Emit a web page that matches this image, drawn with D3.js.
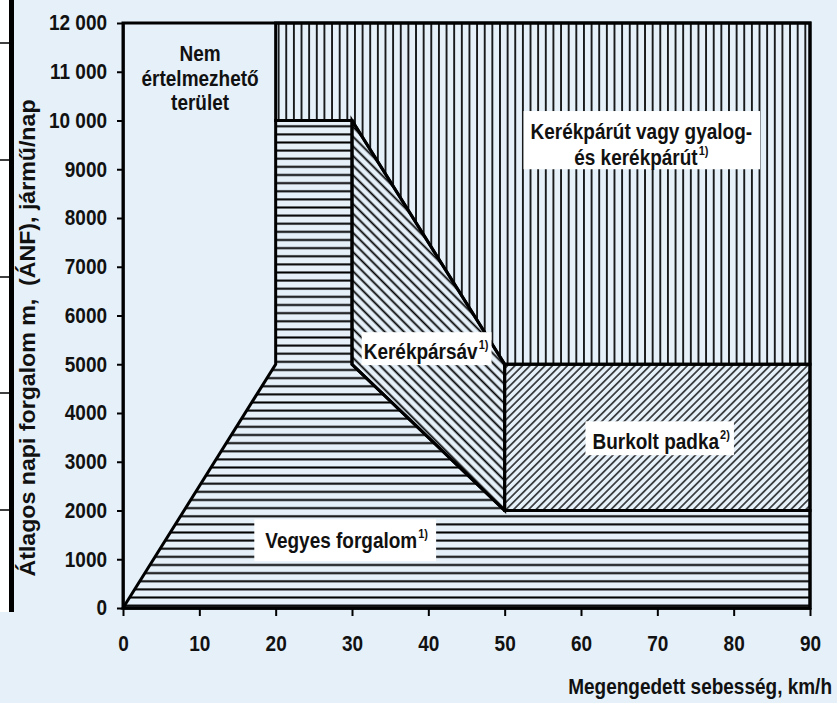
<!DOCTYPE html>
<html>
<head>
<meta charset="utf-8">
<script src="https://cdn.jsdelivr.net/npm/d3@7"></script>
<style>
  body { margin: 0; background: #e5f0f9; }
  svg { display: block; }
  text { font-family: "Liberation Sans", Arial, sans-serif; font-weight: bold; fill: #111; }
</style>
</head>
<body>
<div id="container"></div>
<script>
// axis values
const speedTicks = [0, 10, 20, 30, 40, 50, 60, 70, 80, 90];
const trafficTicks = [0, 1000, 2000, 3000, 4000, 5000, 6000, 7000, 8000, 9000, 10000, 11000, 12000];
const trafficTickLabels = ["0", "1000", "2000", "3000", "4000", "5000", "6000", "7000", "8000", "9000", "10 000", "11 000", "12 000"];

// zone boundaries: [speed km/h, ÁNF jármű/nap]
const mixedZone = [[0, 0], [20, 5000], [20, 10000], [30, 10000], [30, 5000], [50, 2000], [90, 2000], [90, 0]];
const laneZone = [[30, 10000], [50, 5000], [50, 2000], [30, 5000]];
const shoulderZone = [[50, 2000], [90, 2000], [90, 5000], [50, 5000]];
const pathZone = [[20, 10000], [20, 12000], [90, 12000], [90, 5000], [50, 5000], [30, 10000]];

// zone names
const zoneNames = [
  { key: "none", lines: ["Nem", "értelmezhető", "terület"], note: null },
  { key: "path", lines: ["Kerékpárút vagy gyalog-", "és kerékpárút"], note: "1)" },
  { key: "lane", lines: ["Kerékpársáv"], note: "1)" },
  { key: "mixed", lines: ["Vegyes forgalom"], note: "1)" },
  { key: "shoulder", lines: ["Burkolt padka"], note: "2)" }
];

const xTitle = "Megengedett sebesség, km/h";
const yTitle = "Átlagos napi forgalom m,  (ÁNF), jármű/nap";

const width = 837;
const height = 703;
const bg = "#e5f0f9";
const tall = 1.12; // glyphs in the original are a bit taller than normal

const x = d3.scaleLinear().domain([0, 90]).range([123, 810]);
const y = d3.scaleLinear().domain([0, 12000]).range([608, 23]);

const svg = d3.select("#container").append("svg")
    .attr("width", width)
    .attr("height", height);

svg.append("rect").attr("width", width).attr("height", height).attr("fill", bg);

// hatch patterns
const defs = svg.append("defs");
function hatch(id, size, angle, strokeWidth, offset) {
  const p = defs.append("pattern")
      .attr("id", id)
      .attr("patternUnits", "userSpaceOnUse")
      .attr("width", size)
      .attr("height", size)
      .attr("x", offset || 0)
      .attr("y", offset || 0)
      .attr("patternTransform", `rotate(${angle})`);
  p.append("line")
      .attr("x1", size / 2).attr("x2", size / 2)
      .attr("y1", -1).attr("y2", size + 1)
      .attr("stroke", "#000")
      .attr("stroke-width", strokeWidth);
}
const rowGap = (y(0) - y(1000)) / 6;
hatch("h-lines", rowGap, 90, 2, 0.3);
hatch("v-lines", x(1) - x(0), 0, 1.7, 0);
hatch("back-lines", 6.8, -45, 1.8, 0);
hatch("fwd-lines", 5.3, 45, 1.3, 0);

const line = d3.line().x(d => x(d[0])).y(d => y(d[1])).curve(d3.curveLinearClosed);

const zones = [
  { pts: mixedZone, fill: "url(#h-lines)" },
  { pts: pathZone, fill: "url(#v-lines)" },
  { pts: laneZone, fill: "url(#back-lines)" },
  { pts: shoulderZone, fill: "url(#fwd-lines)" }
];

svg.append("g")
  .selectAll("path")
  .data(zones)
  .join("path")
    .attr("d", d => line(d.pts))
    .attr("fill", d => d.fill)
    .attr("stroke", "#000")
    .attr("stroke-width", 3)
    .attr("stroke-linejoin", "miter");

// plot frame
svg.append("rect")
    .attr("x", x(0))
    .attr("y", y(12000))
    .attr("width", x(90) - x(0))
    .attr("height", y(0) - y(12000))
    .attr("fill", "none")
    .attr("stroke", "#000")
    .attr("stroke-width", 3);

// axes
const xAxis = svg.append("g")
    .attr("transform", `translate(0,${y(0)})`)
    .call(d3.axisBottom(x).tickValues(speedTicks).tickSize(8).tickSizeOuter(0).tickPadding(21));
const yAxis = svg.append("g")
    .attr("transform", `translate(${x(0)},0)`)
    .call(d3.axisLeft(y).tickValues(trafficTicks).tickSize(6).tickSizeOuter(0).tickPadding(10)
      .tickFormat((d, i) => trafficTickLabels[i]));

[xAxis, yAxis].forEach(g => {
  g.attr("font-family", null).attr("font-size", null);
  g.select(".domain").attr("stroke", "#000").attr("stroke-width", 2.5);
  g.selectAll(".tick line").attr("stroke", "#000").attr("stroke-width", 2);
  g.selectAll(".tick text")
      .style("font-size", "19px")
      .style("transform-box", "fill-box")
      .style("transform-origin", "center")
      .style("transform", `scaleY(${tall})`)
      .attr("fill", "#111");
});

// axis titles
svg.append("text")
    .attr("transform", `translate(832,694) scale(1,${tall})`)
    .attr("text-anchor", "end")
    .style("font-size", "19px")
    .text(xTitle);

svg.append("text")
    .attr("transform", `translate(35,338) rotate(-90) scale(1,${tall})`)
    .attr("text-anchor", "middle")
    .attr("textLength", 477)
    .attr("lengthAdjust", "spacingAndGlyphs")
    .style("font-size", "19px")
    .style("white-space", "pre")
    .text(yTitle);

// zone labels: position in data units, line step, box padding [top, right, bottom, left]
const labelSpots = {
  none: { sx: 10.1, ty: 11220, step: 24.5, pad: null },
  path: { sx: 67.9, ty: 9620, step: 26, pad: [9, 8, 0, 7] },
  lane: { sx: 39.7, ty: 5110, step: 0, pad: [5, 3, 2, 2] },
  mixed: { sx: 29.3, ty: 1231, step: 0, pad: [7, 8, 9, 11] },
  shoulder: { sx: 70.5, ty: 3262, step: 0, pad: [6, 4, 2, 7] }
};

zoneNames.forEach(z => {
  const spot = labelSpots[z.key];
  const g = svg.append("g");
  const inner = g.append("g");
  z.lines.forEach((ln, i) => {
    const t = inner.append("text")
        .attr("transform", `translate(${x(spot.sx)},${y(spot.ty) + i * spot.step}) scale(1,${tall})`)
        .attr("text-anchor", "middle")
        .style("font-size", "19px");
    t.append("tspan").text(ln);
    if (z.note && i === z.lines.length - 1) {
      t.append("tspan")
          .attr("dx", 1)
          .attr("dy", -9)
          .style("font-size", "11px")
          .text(z.note);
    }
  });
  if (spot.pad) {
    const bb = inner.node().getBBox();
    const [pt, pr, pb, pl] = spot.pad;
    g.insert("rect", "g")
        .attr("x", bb.x - pl)
        .attr("y", bb.y - pt)
        .attr("width", bb.width + pl + pr)
        .attr("height", bb.height + pt + pb)
        .attr("fill", "#fff");
  }
});

// page remnant on the left edge
const strip = svg.append("g");
strip.append("rect").attr("x", 0).attr("y", 0).attr("width", 9).attr("height", 612).attr("fill", "#fff");
strip.append("rect").attr("x", 9).attr("y", 0).attr("width", 5).attr("height", 612).attr("fill", "#000");
strip.selectAll("line")
  .data([43, 160, 277, 393, 510])
  .join("line")
    .attr("x1", 0).attr("x2", 9)
    .attr("y1", d => d).attr("y2", d => d)
    .attr("stroke", "#000")
    .attr("stroke-width", 1.5);
</script>
</body>
</html>
